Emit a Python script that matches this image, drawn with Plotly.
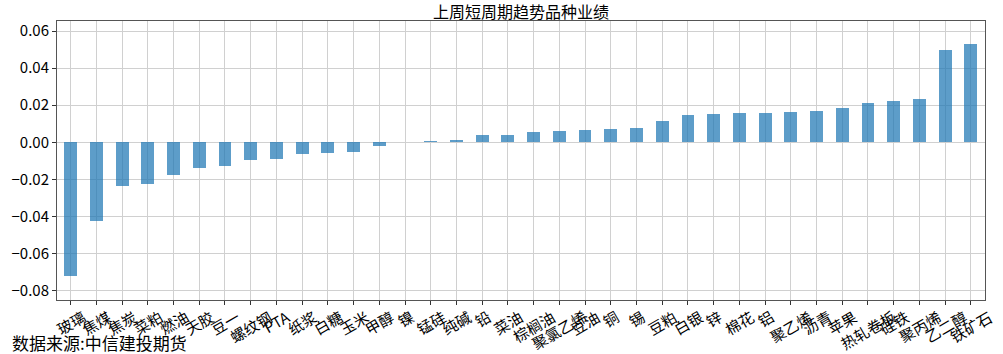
import plotly.graph_objects as go

categories = ["玻璃", "焦煤", "焦炭", "菜粕", "燃油", "天胶", "豆一", "螺纹钢", "PTA", "纸浆",
              "白糖", "玉米", "甲醇", "镍", "锰硅", "纯碱", "铅", "菜油", "棕榈油", "聚氯乙烯",
              "豆油", "铜", "锡", "豆粕", "白银", "锌", "棉花", "铝", "聚乙烯", "沥青",
              "苹果", "热轧卷板", "硅铁", "聚丙烯", "乙二醇", "铁矿石"]
values = [-0.0722, -0.0425, -0.0237, -0.0222, -0.0178, -0.0136, -0.0128, -0.0097, -0.0090, -0.0063,
          -0.0056, -0.0050, -0.0019, 0.0, 0.0006, 0.0015, 0.0039, 0.0039, 0.0055, 0.0059,
          0.0066, 0.0071, 0.0075, 0.0114, 0.0149, 0.0154, 0.0158, 0.0158, 0.0162, 0.0169,
          0.0183, 0.0212, 0.0224, 0.0233, 0.0499, 0.0532]
y_ticks = [-0.08, -0.06, -0.04, -0.02, 0.0, 0.02, 0.04, 0.06]

title_text = "上周短周期趋势品种业绩"
source_text = "数据来源:中信建投期货"

FONT = "Noto Sans CJK SC, Noto Sans, sans-serif"

xs = list(range(len(categories)))

fig = go.Figure()
fig.add_trace(go.Bar(
    x=xs, y=values, width=0.5,
    marker=dict(color="rgba(31,119,180,0.72)", line=dict(width=0)),
    showlegend=False,
))

annotations = []
for i, c in enumerate(categories):
    annotations.append(dict(
        x=i, y=0, xref="x", yref="paper", text=c, showarrow=False,
        textangle=-30, xanchor="center", yanchor="top", yshift=-3,
        font=dict(family=FONT, size=15, color="black"),
    ))
annotations.append(dict(
    x=0.5, y=1, xref="paper", yref="paper", text=title_text, showarrow=False,
    xanchor="center", yanchor="middle", yshift=10,
    font=dict(family=FONT, size=16, color="black"),
))
annotations.append(dict(
    x=(6 - 53) / 932, y=-(342 - 300) / 279, xref="paper", yref="paper",
    text=source_text, showarrow=False, xanchor="left", yanchor="middle",
    font=dict(family=FONT, size=17, color="black"),
))

fig.update_layout(
    width=1003, height=354,
    margin=dict(l=53, r=18, t=21, b=54),
    paper_bgcolor="white", plot_bgcolor="white",
    font=dict(family=FONT, size=14, color="black"),
    annotations=annotations,
    bargap=0,
)
fig.update_xaxes(
    range=[-0.53, 35.55], showticklabels=False,
    tickmode="array", tickvals=xs, ticks="outside", ticklen=4, tickcolor="#333",
    showgrid=True, gridcolor="#d0d0d0", gridwidth=1,
    showline=True, linecolor="#555", linewidth=1, mirror=True, zeroline=False,
)
fig.update_yaxes(
    range=[-0.0850, 0.0654], tickmode="array", tickvals=y_ticks, tickformat=".2f",
    ticks="outside", ticklen=4, tickcolor="#333",
    showgrid=True, gridcolor="#d0d0d0", gridwidth=1,
    showline=True, linecolor="#555", linewidth=1, mirror=True, zeroline=False,
    tickfont=dict(family=FONT, size=15, color="black"),
)

fig.write_html("out.html")
